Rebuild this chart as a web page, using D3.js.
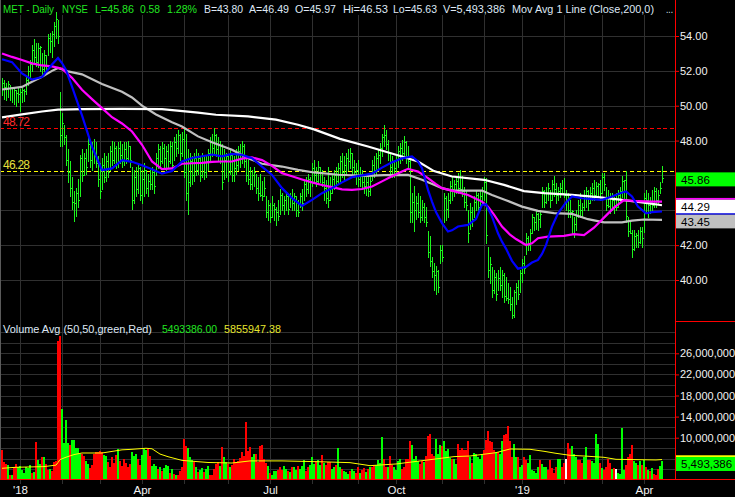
<!DOCTYPE html>
<html>
<head>
<meta charset="utf-8">
<script src="https://cdn.jsdelivr.net/npm/d3@7"></script>
<style>
  html, body { margin: 0; padding: 0; background: #000; }
  svg { display: block; }
  text { font-family: "Liberation Sans", Arial, sans-serif; }
</style>
</head>
<body>
<svg id="chart" width="735" height="497"></svg>
<script>
// ---------------- data ----------------
const symbol = "MET", exchange = "NYSE";
const firstSession = "2017-12-18", lastSession = "2019-04-12";
const marketHolidays = ["2017-12-25","2018-01-01","2018-01-15","2018-02-19","2018-03-30","2018-05-28",
  "2018-07-04","2018-09-03","2018-11-22","2018-12-05","2018-12-25","2019-01-01","2019-01-21","2019-02-18"];

const quoteBid = 43.80, quoteAsk = 46.49, lastOpen = 45.97;
const resistanceLevel = 48.72, supportLevel = 46.28;

// daily high / low / close, one per session
const high = [
  51.6,51.5,51.3,51.4,51.2,51.1,51.0,50.9,51.0,50.95,
  51.0,50.95,51.7,52.3,52.6,53.5,53.8,53.6,53.6,53.4,
  53.0,53.2,52.9,54.1,54.2,54.3,54.8,55.4,54.9,50.8,
  49.6,48.9,48.3,47.5,46.8,45.9,45.1,45.3,45.8,47.2,
  47.5,47.3,47.5,48.2,48.0,47.9,48.1,47.9,47.1,46.7,
  47.0,47.3,47.1,47.3,47.7,48.0,47.9,47.7,47.9,48.0,
  47.8,47.9,47.9,48.0,47.7,46.5,46.3,46.5,46.7,46.5,
  46.3,46.7,46.3,46.1,46.3,46.5,46.3,47.3,47.8,47.7,
  47.9,47.8,47.7,47.8,48.0,47.9,48.2,48.4,48.6,48.4,
  48.5,48.8,48.4,47.5,47.3,47.1,47.3,47.5,47.3,47.1,
  47.3,47.2,47.1,47.5,48.2,48.4,48.72,48.4,48.2,48.0,
  47.8,47.5,47.3,47.1,47.5,47.3,47.1,47.5,47.7,47.8,
  47.95,47.8,47.1,46.9,46.5,46.3,46.5,46.1,45.9,46.1,
  45.7,45.9,44.8,44.6,44.4,44.8,44.4,44.2,44.6,45.2,
  45.0,44.8,45.0,44.8,45.0,45.2,45.0,44.8,44.6,45.0,
  45.2,45.7,45.9,46.1,45.9,46.7,46.9,46.5,46.8,46.5,
  46.3,45.9,45.75,46.5,45.9,46.1,46.3,46.5,46.7,47.1,
  47.3,47.1,47.3,47.5,47.55,47.3,46.9,46.7,46.9,46.5,
  46.3,46.1,45.9,46.1,45.9,46.9,47.1,47.3,47.5,47.85,
  48.4,48.9,48.6,48.05,47.3,47.1,46.9,47.1,47.7,47.85,
  48.05,48.25,47.95,47.7,46.9,45.0,45.4,44.8,45.0,44.8,
  44.6,44.4,44.2,42.8,42.5,41.3,40.95,40.8,40.6,42.0,
  42.0,45.0,44.8,45.0,45.7,45.94,45.75,45.94,46.13,46.3,
  45.94,45.36,45.17,44.0,44.4,44.2,44.8,45.17,44.98,45.17,
  45.36,45.9,45.85,41.9,41.34,40.77,40.57,40.4,40.57,40.77,
  40.57,40.4,40.2,39.8,39.6,39.0,39.4,39.8,40.0,40.6,
  41.2,41.4,42.7,42.5,42.9,43.8,43.64,44.0,43.83,44.0,
  45.36,45.17,45.36,45.55,45.17,45.75,45.94,45.55,45.36,45.55,
  45.75,45.84,45.17,44.98,44.6,44.0,43.64,44.02,44.6,44.98,
  44.4,45.17,45.36,45.17,45.36,45.55,45.75,45.65,45.55,45.75,
  46.13,46.13,45.36,45.17,44.98,44.98,44.79,44.98,45.17,45.36,
  45.94,45.75,46.28,43.6,43.45,42.87,42.87,42.68,42.87,43.06,
  43.06,44.98,45.17,44.98,44.79,45.17,45.36,45.27,45.17,45.65,
  46.53
];
const low = [
  50.6,50.4,50.3,50.5,50.3,50.2,50.1,50.0,50.2,49.7,
  50.2,50.25,50.7,51.2,51.6,52.0,52.5,52.3,52.2,52.0,
  51.7,52.0,51.8,52.9,53.1,52.8,53.4,53.9,53.6,47.7,
  47.7,47.8,46.6,45.6,44.8,44.1,43.4,43.7,44.2,44.8,
  45.7,46.0,46.1,46.8,46.5,46.3,46.7,46.5,45.4,44.7,
  45.2,45.6,45.7,45.9,46.3,46.6,46.7,46.4,46.5,46.7,
  46.5,46.6,46.7,46.8,46.5,44.1,44.4,44.8,45.0,44.6,
  44.4,44.8,45.0,44.8,45.2,45.2,45.0,46.0,46.4,46.5,
  46.7,46.5,46.3,46.5,46.7,46.3,46.9,47.1,47.3,46.9,
  47.1,45.9,44.6,43.8,45.4,45.5,45.7,46.0,46.1,45.7,
  45.9,45.8,45.9,46.3,46.9,47.1,47.3,47.1,46.9,46.7,
  45.2,45.8,45.9,45.7,46.1,45.7,45.7,46.1,46.3,46.5,
  46.7,46.5,45.7,45.5,45.2,45.2,45.4,45.0,44.6,44.8,
  44.6,44.8,43.6,43.45,43.3,43.6,43.45,43.15,43.45,43.8,
  44.0,43.8,44.0,43.8,44.2,44.0,44.0,43.7,43.7,44.2,
  44.0,44.6,44.8,45.0,44.8,45.4,45.6,45.4,45.6,45.6,
  45.4,44.6,44.4,44.2,44.6,45.0,45.2,45.4,45.5,45.7,
  45.9,45.7,46.1,46.3,46.4,46.1,45.9,45.5,45.4,45.4,
  45.2,45.0,44.9,44.8,44.9,45.75,45.9,46.1,46.3,46.7,
  47.1,47.7,47.5,46.9,46.1,45.9,45.9,46.1,46.5,46.7,
  46.9,47.1,46.7,46.5,43.3,43.3,42.8,43.5,43.6,43.3,
  43.45,43.3,43.1,41.3,40.8,40.2,39.4,39.2,39.3,41.0,
  41.1,43.3,43.45,43.6,44.4,44.6,44.8,44.98,44.98,45.2,
  44.8,44.2,44.0,42.2,42.9,43.1,43.6,44.0,43.83,44.2,
  44.4,44.6,42.1,40.2,39.8,39.0,39.23,38.85,39.4,39.4,
  39.0,38.75,38.85,38.66,38.3,37.8,37.9,38.6,38.9,39.3,
  39.9,40.4,41.5,41.7,41.7,42.7,42.87,42.9,42.87,43.06,
  44.2,44.2,44.4,44.6,44.2,44.6,44.8,44.4,44.6,44.79,
  44.98,44.79,44.02,43.64,43.64,42.7,42.49,42.87,43.64,43.64,
  43.64,44.02,44.2,44.02,44.4,44.6,44.6,44.79,44.79,44.6,
  44.98,45.17,44.02,44.21,43.83,44.02,43.83,44.02,44.21,44.4,
  44.79,44.6,43.35,42.5,42.68,41.34,41.72,41.9,41.9,42.1,
  41.9,42.78,43.83,43.64,43.83,44.02,44.21,44.21,44.4,44.98,
  45.63
];
const close = [
  51.3,51.1,50.95,51.25,51.05,51.0,50.9,50.75,50.7,50.8,
  50.9,50.85,51.5,52.0,52.4,53.2,52.8,52.5,53.3,53.35,
  52.1,52.9,52.3,53.9,53.7,54.1,54.6,55.0,54.0,48.3,
  49.0,48.2,46.9,46.2,45.3,44.5,44.4,45.0,44.6,47.0,
  46.0,47.0,46.5,47.8,46.9,47.5,47.1,46.7,45.8,45.1,
  46.6,45.9,46.8,46.2,47.4,46.9,47.6,46.7,47.6,47.2,
  46.8,47.5,47.0,47.7,46.9,44.6,45.9,45.2,46.4,44.9,
  45.8,46.3,45.3,45.7,45.5,46.2,45.4,47.0,47.5,46.8,
  47.6,47.0,47.4,46.8,47.7,46.6,47.9,47.6,48.3,47.3,
  48.1,46.2,45.0,45.6,46.8,46.0,47.0,46.3,47.0,46.0,
  47.1,46.2,46.8,47.3,47.9,47.6,48.3,47.5,47.2,47.7,
  45.6,46.9,47.1,46.2,47.2,46.0,46.4,46.6,47.4,47.0,
  47.7,46.8,46.0,45.8,45.5,46.0,46.2,45.3,45.0,44.9,
  44.8,45.3,43.9,44.3,43.6,44.3,44.1,43.9,43.7,44.9,
  44.3,44.6,44.8,44.1,44.7,44.4,44.8,44.0,43.9,44.8,
  44.4,45.5,45.2,45.8,45.6,46.4,46.0,45.7,46.5,46.2,
  45.6,45.3,44.7,44.6,45.0,45.8,46.0,45.7,46.4,46.8,
  46.2,46.6,47.0,46.8,47.3,46.5,46.2,46.3,45.8,46.1,
  45.6,45.4,45.6,45.1,45.7,46.6,46.3,47.0,47.2,47.6,
  48.2,48.3,47.8,47.3,46.5,46.8,46.4,46.9,47.4,47.6,
  47.3,47.9,47.1,46.8,43.9,44.5,44.0,44.4,43.9,43.6,
  44.2,43.6,43.3,41.6,41.1,40.5,40.3,40.5,39.6,41.7,
  41.3,44.7,44.1,44.6,45.4,45.2,45.5,45.7,45.3,45.25,
  45.1,44.5,44.3,42.7,43.9,43.5,44.5,44.9,44.2,44.8,
  45.1,45.6,42.6,40.6,40.9,39.4,40.2,39.2,40.1,39.7,
  40.3,39.1,38.95,38.9,38.6,38.0,39.3,39.6,39.2,40.4,
  41.0,40.7,42.4,42.0,42.7,43.6,43.3,43.8,43.5,43.8,
  45.1,44.5,45.0,45.3,44.6,45.5,45.2,44.9,45.1,45.3,
  45.0,44.9,44.9,44.0,43.9,43.95,43.2,43.7,44.3,44.0,
  44.2,44.9,45.1,44.4,45.0,45.3,44.9,45.4,45.5,45.0,
  45.9,45.5,44.3,44.25,44.1,44.6,44.2,44.2,44.9,45.1,
  45.7,45.75,43.7,42.8,42.7,41.8,42.5,42.6,42.2,42.8,
  42.4,44.7,44.6,44.3,44.5,44.3,45.1,44.6,44.9,45.28,
  45.86
];
// daily volume, millions of shares
const volume = [
  7.7,5.4,5.0,4.8,3.0,2.9,4.5,5.1,4.4,4.7,
  3.9,3.3,4.5,4.3,4.8,3.4,3.5,9.2,5.8,5.1,
  6.4,6.4,5.0,3.9,4.0,3.6,5.4,5.5,28.4,29.2,
  15.5,9.0,13.3,9.0,8.6,9.6,9.6,8.1,8.0,7.0,
  6.9,6.5,5.6,5.0,4.2,4.8,6.9,7.2,7.3,7.5,
  7.3,6.8,6.5,5.4,4.5,6.3,5.2,6.8,7.8,5.5,
  4.7,6.0,5.2,4.4,5.1,7.2,6.5,7.0,6.0,4.9,
  6.8,7.8,7.6,7.9,6.6,4.6,5.0,4.6,4.0,4.5,
  3.6,4.2,4.8,4.7,3.3,4.0,3.1,3.0,3.0,3.6,
  4.5,9.8,8.5,8.0,6.3,5.7,5.3,4.5,3.5,3.8,
  4.2,3.5,4.0,4.6,3.0,2.9,4.0,5.1,5.3,4.6,
  8.2,6.4,5.3,5.0,4.5,4.9,6.0,5.3,5.5,6.2,
  7.2,6.6,13.0,7.4,8.2,6.3,7.0,7.0,5.4,8.5,
  8.6,6.0,5.2,4.6,3.3,3.0,3.6,3.7,3.9,4.5,
  3.8,4.7,4.1,3.7,3.5,4.4,4.5,3.9,4.7,4.0,
  4.6,5.8,3.6,4.4,4.8,6.4,5.0,5.6,5.7,4.8,
  6.8,5.2,4.8,5.4,5.3,4.0,4.4,4.8,8.0,4.4,
  4.0,3.7,3.5,3.2,3.6,4.0,3.6,3.3,4.5,3.3,
  3.9,4.3,3.5,4.0,4.5,4.5,4.8,4.8,5.8,5.2,
  10.2,6.0,4.5,4.5,6.5,4.8,4.5,3.9,5.5,6.0,
  4.0,4.5,6.0,6.0,9.4,8.7,6.0,6.5,5.6,5.1,
  5.5,5.4,6.6,10.3,10.7,7.0,6.5,9.8,7.0,8.7,
  8.4,9.3,7.5,7.9,6.1,6.0,6.0,5.1,8.8,7.7,
  8.0,7.7,7.7,9.4,6.4,5.2,7.1,7.0,6.4,6.0,
  6.8,7.7,9.6,11.3,9.4,9.2,7.6,7.3,7.2,7.0,
  9.3,10.6,10.7,12.3,9.4,6.4,8.9,6.4,6.4,4.5,
  4.8,6.4,5.8,5.2,6.7,3.9,3.6,3.3,4.5,5.7,
  5.1,4.5,4.5,3.9,5.7,4.2,3.4,4.5,6.0,6.0,
  4.5,5.2,6.0,9.0,7.8,8.5,7.0,6.4,5.8,5.8,
  5.2,6.4,8.3,5.8,5.8,5.5,5.2,10.7,8.9,5.2,
  4.2,3.9,4.5,6.0,5.2,4.0,4.2,4.0,3.3,3.2,
  11.8,3.9,4.9,6.4,7.0,8.7,5.5,5.2,4.8,5.5,
  4.9,5.8,4.5,3.9,3.7,4.3,3.2,3.0,4.0,4.6,
  5.493386
];
// volume bar tone per session: g = up, r = down, w = unchanged
const volumeTone =
  "rrrgrgrrgg" + "gggggrgrgg" + "rgrrgrrrrr" + "ggggrggggg" + "rrggrrrrrr" +
  "rggrrrrrgr" + "rrrrrgggrr" + "gggrrgggrg" + "rgggrgrgrr" + "rrrgggrgrg" +
  "grggrrrrrg" + "rggrgrrrrr" + "rrrrrggrrr" + "rrrgrgggrr" + "rggrgrggrg" +
  "ggrrgggrgg" + "rgrrrggrgg" + "rgggrggrrg" + "rrgrgrrggg" + "grrgrrgggg" +
  "rrrrrggggr" + "rgrrrrrggg" + "rggggrggrr" + "rrrrgrgggg" + "grrrrrrgrg" +
  "grrrrrggrg" + "grrggggggr" + "gggrrrrrgg" + "rrwrrgggrr" + "rggrrggggr" +
  "grrrrgrwgg" + "ggrrrrggrg" + "rgrgrgrrrg" + "g";

// moving averages: [session number, value]
const avgShort = [[0,52.67],[5,52.5],[10,51.85],[15,51.5],[20,51.65],[25,52.36],[28,52.74],[30,52.45],[32,52.05],
  [35,51.1],[40,49.45],[45,47.65],[50,46.3],[55,46.4],[60,46.87],[65,46.78],[70,46.58],[75,46.35],[80,46.1],
  [85,46.25],[90,46.8],[95,47.0],[100,47.1],[105,47.2],[110,47.1],[115,47.24],[120,47.18],[125,46.99],
  [130,46.51],[135,46.03],[140,45.27],[145,44.7],[150,44.25],[155,44.6],[160,44.98],[165,45.27],[170,45.6],
  [175,45.9],[180,46.0],[185,46.1],[190,46.45],[195,46.75],[200,46.98],[205,47.09],[208,46.8],[210,46.42],
  [213,45.17],[215,44.5],[217,43.9],[220,43.26],[223,42.78],[225,42.85],[228,43.07],[233,43.16],[237,43.5],
  [240,44.31],[242,44.35],[245,43.64],[248,42.68],[250,42.2],[252,41.8],[255,41.1],[258,40.65],[262,40.75],
  [265,41.0],[268,41.15],[270,41.5],[272,42.0],[275,43.06],[278,43.83],[282,44.45],[285,44.79],[290,44.69],
  [295,44.64],[300,44.6],[305,44.79],[309,44.98],[312,45.08],[315,44.79],[318,44.21],[322,43.83],[325,43.89],
  [330,43.93]];
const avgMid = [[0,53.0],[5,52.8],[10,52.62],[15,52.43],[20,52.31],[25,52.26],[30,52.12],[35,51.6],[40,50.92],
  [45,50.38],[50,49.86],[55,49.34],[60,48.98],[65,48.52],[70,47.76],[75,46.8],[80,46.36],[85,46.4],[90,46.67],
  [95,46.7],[100,46.72],[105,46.78],[110,46.8],[115,46.8],[120,46.96],[125,47.03],[130,46.88],[135,46.55],
  [140,46.13],[145,45.95],[150,45.77],[155,45.6],[160,45.45],[165,45.33],[170,45.2],[175,45.17],[180,45.22],
  [185,45.36],[190,45.66],[195,45.95],[200,46.23],[203,46.38],[208,46.22],[213,45.85],[217,45.5],[220,45.27],
  [225,45.13],[233,44.88],[240,44.5],[243,44.2],[246,43.75],[250,43.07],[254,42.6],[257,42.35],[262,42.01],
  [265,42.11],[268,42.4],[273,42.49],[281,42.53],[286,42.63],[291,42.58],[296,43.0],[301,43.58],[306,44.15],
  [311,44.58],[318,44.52],[325,44.5],[330,44.5]];
const avgLong = [[0,50.93],[10,51.08],[15,51.38],[20,51.66],[25,52.0],[28,52.17],[33,51.97],[40,51.8],[50,51.25],
  [60,50.8],[65,50.47],[70,50.0],[77,49.5],[85,49.05],[90,48.81],[98,48.24],[105,47.9],[115,47.47],[123,46.99],
  [130,46.67],[140,46.51],[148,46.32],[156,46.17],[168,46.04],[183,45.98],[191,46.02],[203,46.03],[210,45.75],
  [216,45.46],[220,45.27],[225,45.13],[240,45.13],[245,44.88],[252,44.58],[260,44.21],[268,43.97],[276,43.84],
  [285,43.79],[293,43.49],[301,43.31],[310,43.31],[315,43.41],[321,43.47],[330,43.45]];
const avg200 = [[0,49.33],[10,49.5],[20,49.67],[28,49.78],[40,49.8],[60,49.82],[80,49.8],[98,49.6],[107,49.48],
  [123,49.39],[137,49.2],[148,48.91],[156,48.64],[169,48.1],[183,47.66],[200,47.09],[208,46.8],[216,46.25],
  [225,45.94],[241,45.75],[251,45.46],[261,45.1],[271,44.98],[285,44.88],[298,44.75],[310,44.6],[321,44.44],
  [330,44.29]];
// 50-day average volume, millions
const volumeAvg = [[0,4.2],[7,4.39],[21,4.52],[27,4.8],[28,5.3],[29,5.85],[32,6.3],[36,6.8],[40,7.1],[50,7.1],
  [60,7.7],[65,7.8],[72,8.0],[75,7.9],[77,7.4],[79,6.9],[83,6.4],[90,5.7],[103,5.3],[115,5.2],[124,5.6],
  [140,5.6],[158,5.45],[174,5.27],[184,4.7],[197,5.02],[209,5.59],[226,6.41],[234,6.53],[247,7.16],
  [254,7.86],[264,7.8],[271,7.42],[277,7.04],[284,6.66],[291,6.53],[301,6.28],[307,5.9],[317,5.84],
  [327,5.78],[330,5.85594738]];

const priceTicks = [40, 42, 44, 46, 48, 50, 52, 54];
const volumeTicks = [10, 14, 18, 22, 26];

// ---------------- layout ----------------
const svg = d3.select("#chart");
const W = 735, H = 497;
const axisX = 675, baseY = 479;
const GREEN = "#00ff00", RED = "#ff0000", GRID = "#303030";
const TXT_GREEN = "#22e622", TXT_LIGHT = "#dfe8f5";

const parseDay = d3.utcParse("%Y-%m-%d"), fmtDay = d3.utcFormat("%Y-%m-%d");
const sessions = d3.utcDay.range(parseDay(firstSession), d3.utcDay.offset(parseDay(lastSession), 1))
  .filter(d => d.getUTCDay() !== 0 && d.getUTCDay() !== 6 && !marketHolidays.includes(fmtDay(d)))
  .map(fmtDay);
const n = sessions.length;

const x = d3.scalePoint().domain(sessions).range([2, 2 + 2 * (n - 1)]);
const yP = d3.scaleLinear().domain([40, 54]).range([280, 36]);
const yV = d3.scaleLinear().domain([10, 26]).range([437.7, 353.3]);
const xi = i => x(sessions[i]);

svg.append("rect").attr("width", W).attr("height", H).attr("fill", "#000");

// grid
const grid = svg.append("g").attr("shape-rendering", "crispEdges");
priceTicks.forEach(p => grid.append("line").attr("x1", 0).attr("x2", axisX)
  .attr("y1", Math.round(yP(p)) + 0.5).attr("y2", Math.round(yP(p)) + 0.5).attr("stroke", GRID));
d3.range(4, 31, 2).forEach(v => grid.append("line").attr("x1", 0).attr("x2", axisX)
  .attr("y1", Math.round(yV(v)) + 0.5).attr("y2", Math.round(yV(v)) + 0.5).attr("stroke", GRID));
const monthStarts = sessions.map((s, i) => i).filter(i => i > 0 && sessions[i].slice(5, 7) !== sessions[i - 1].slice(5, 7));
monthStarts.forEach(i => grid.append("line").attr("x1", xi(i) + 0.5).attr("x2", xi(i) + 0.5)
  .attr("y1", 15).attr("y2", 484).attr("stroke", GRID));

// reference levels
[[resistanceLevel, RED], [supportLevel, "#ffff00"]].forEach(([lvl, c]) => {
  svg.append("line").attr("x1", 0).attr("x2", axisX)
    .attr("y1", Math.round(yP(lvl)) + 0.5).attr("y2", Math.round(yP(lvl)) + 0.5)
    .attr("stroke", c).attr("stroke-dasharray", "4,2.7").attr("shape-rendering", "crispEdges");
});

// price bars (high-low with close tick)
const bars = svg.append("g").attr("fill", "#1cf51c").attr("shape-rendering", "crispEdges");
d3.range(n).forEach(i => {
  const bx = xi(i), top = Math.round(yP(high[i])), bot = Math.round(yP(low[i]));
  bars.append("rect").attr("x", bx).attr("y", top).attr("width", 1).attr("height", Math.max(1, bot - top + 1));
  bars.append("rect").attr("x", bx + 1).attr("y", Math.round(yP(close[i]))).attr("width", 1).attr("height", 1);
});

// moving average lines
const maLine = d3.line().x(d => xi(d[0])).y(d => yP(d[1]));
[[avgLong, "#c0c0c0"], [avg200, "#ffffff"], [avgMid, "#ff00ff"], [avgShort, "#0000ff"]].forEach(([data, c]) => {
  svg.append("path").attr("d", maLine(data)).attr("fill", "none").attr("stroke", c).attr("stroke-width", 2.2);
});

// volume bars
const toneColor = { g: GREEN, r: RED, w: "#ffffff" };
const vol = svg.append("g").attr("shape-rendering", "crispEdges");
d3.range(n).forEach(i => {
  const top = Math.round(yV(volume[i]));
  vol.append("rect").attr("x", xi(i) - 1).attr("y", top).attr("width", 2).attr("height", baseY - top)
    .attr("fill", toneColor[volumeTone[i]]);
});
svg.append("path").attr("d", d3.line().x(d => xi(d[0])).y(d => yV(d[1]))(volumeAvg))
  .attr("fill", "none").attr("stroke", "#ffff00").attr("stroke-width", 1);

// frame
const frame = svg.append("g").attr("shape-rendering", "crispEdges");
frame.append("line").attr("x1", 0.5).attr("x2", 0.5).attr("y1", 0).attr("y2", baseY).attr("stroke", "#5a5a5a");
frame.append("line").attr("x1", axisX + 0.5).attr("x2", axisX + 0.5).attr("y1", 0).attr("y2", baseY).attr("stroke", RED);
frame.append("line").attr("x1", axisX).attr("x2", W).attr("y1", 321.5).attr("y2", 321.5).attr("stroke", RED);
frame.append("line").attr("x1", 0).attr("x2", W).attr("y1", baseY + 0.5).attr("y2", baseY + 0.5).attr("stroke", RED);

// value tags sit over the price axis; ticks hidden beneath them get no label
const lastClose = close[n - 1];
const lastWhite = avg200[avg200.length - 1][1], lastGray = avgLong[avgLong.length - 1][1];
const tagCenters = [yP(lastClose) + 1.5, yP(lastWhite) + 1.5, yP(lastGray) + 1.5];
const covered = p => tagCenters.some(c => Math.abs(yP(p) - c) < 11);

// right axes
const priceAxis = svg.append("g").attr("transform", `translate(${axisX},0)`)
  .call(d3.axisRight(yP).tickValues(priceTicks)
    .tickFormat(p => covered(p) ? "" : d3.format(".2f")(p)).tickSize(4).tickPadding(1));
const volAxis = svg.append("g").attr("transform", `translate(${axisX},0)`)
  .call(d3.axisRight(yV).tickValues(volumeTicks).tickFormat(v => d3.format(",")(v * 1e6)).tickSize(4).tickPadding(1));
[priceAxis, volAxis].forEach(a => {
  a.select(".domain").remove();
  a.selectAll(".tick line").attr("stroke", RED);
  a.selectAll(".tick text").attr("fill", "#f2f2f2").attr("font-size", 11)
    .attr("font-family", '"Liberation Sans", Arial, sans-serif');
});

function tag(yc, fill, label) {
  svg.append("rect").attr("x", axisX + 1).attr("y", yc - 7).attr("width", W - axisX - 1).attr("height", 14).attr("fill", fill);
  svg.append("text").attr("x", axisX + 6).attr("y", yc).attr("dy", "0.36em").attr("font-size", 11.5)
    .attr("fill", "#000").text(label);
}
tag(tagCenters[0], GREEN, lastClose.toFixed(2));
svg.append("rect").attr("x", axisX + 1).attr("y", tagCenters[1] - 8.8).attr("width", W - axisX - 1).attr("height", 1.8).attr("fill", "#ff00ff");
tag(tagCenters[1], "#ffffff", lastWhite.toFixed(2));
tag(tagCenters[2], "#c0c0c0", lastGray.toFixed(2));
svg.append("rect").attr("x", axisX + 1).attr("y", tagCenters[1] + 6.6).attr("width", W - axisX - 1).attr("height", 1.2).attr("fill", "#0000ff");

// volume tag
const lastVol = volume[n - 1], lastVolAvg = volumeAvg[volumeAvg.length - 1][1];
const vy = yV(lastVol) + 2.5;
svg.append("rect").attr("x", axisX + 1).attr("y", vy - 8.7).attr("width", W - axisX - 1).attr("height", 1.8).attr("fill", "#ffff00");
tag(vy, GREEN, d3.format(",.0f")(lastVol * 1e6));

// level labels
svg.append("text").attr("x", 3).attr("y", Math.round(yP(resistanceLevel)) - 2.5).attr("font-size", 12)
  .attr("fill", "#ff2a2a").attr("textLength", 27).text(resistanceLevel.toFixed(2));
svg.append("text").attr("x", 3).attr("y", Math.round(yP(supportLevel)) - 2.5).attr("font-size", 12)
  .attr("fill", "#e8e03c").attr("textLength", 27).text(supportLevel.toFixed(2));

// month labels
monthStarts.forEach(i => {
  const m = +sessions[i].slice(5, 7);
  let label = null;
  if (m === 1) label = "'" + sessions[i].slice(2, 4);
  else if (m === 4) label = "Apr";
  else if (m === 7) label = "Jul";
  else if (m === 10) label = "Oct";
  if (label) svg.append("text").attr("x", xi(i) + 0.5).attr("y", 493.5).attr("text-anchor", "middle")
    .attr("font-size", 11.5).attr("fill", "#f2f2f2").text(label);
});

// header lines
const prevClose = close[n - 2];
const chg = lastClose - prevClose;
const header = [
  [`${symbol} - Daily`, 3, 51, TXT_GREEN],
  [exchange, 62, 26, TXT_GREEN],
  [`L=${lastClose.toFixed(2)}`, 95, 39, TXT_GREEN],
  [chg.toFixed(2), 140, 20, TXT_GREEN],
  [`${(chg / prevClose * 100).toFixed(2)}%`, 167, 30, TXT_GREEN],
  [`B=${quoteBid.toFixed(2)}`, 204, 39, TXT_LIGHT],
  [`A=${quoteAsk.toFixed(2)}`, 249, 40, TXT_LIGHT],
  [`O=${lastOpen.toFixed(2)}`, 295, 41, TXT_LIGHT],
  [`Hi=${high[n - 1].toFixed(2)}`, 343, 45, TXT_LIGHT],
  [`Lo=${low[n - 1].toFixed(2)}`, 393, 44, TXT_LIGHT],
  [`V=${d3.format(",.0f")(lastVol * 1e6)}`, 443, 62, TXT_LIGHT],
  ["Mov Avg 1 Line (Close,200,0)", 512, 142, TXT_LIGHT],
  ["...", 666, 7, TXT_LIGHT]
];
header.forEach(([t, hx, w, c]) => svg.append("text").attr("x", hx).attr("y", 13).attr("font-size", 11)
  .attr("fill", c).attr("textLength", w).attr("lengthAdjust", "spacingAndGlyphs").text(t));

const volHeader = [
  ["Volume Avg (50,50,green,Red)", 3, 149, TXT_LIGHT],
  [(lastVol * 1e6).toFixed(2), 162, 55, TXT_GREEN],
  [(lastVolAvg * 1e6).toFixed(2), 224, 57, "#e6e62e"]
];
volHeader.forEach(([t, hx, w, c]) => svg.append("text").attr("x", hx).attr("y", 333).attr("font-size", 11)
  .attr("fill", c).attr("textLength", w).attr("lengthAdjust", "spacingAndGlyphs").text(t));
</script>
</body>
</html>
